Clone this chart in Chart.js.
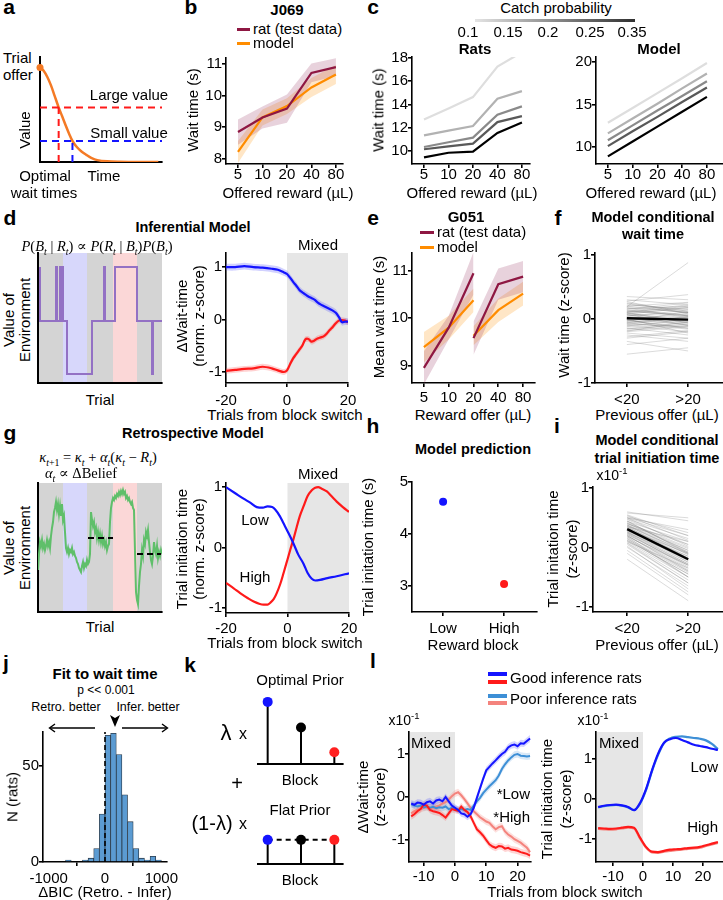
<!DOCTYPE html>
<html><head><meta charset="utf-8">
<script src="https://cdn.jsdelivr.net/npm/chart.js@4.4.1/dist/chart.umd.min.js"></script>
<style>
html,body{margin:0;padding:0;background:#fff;}
#fig{position:relative;width:723px;height:900px;overflow:hidden;background:#fff;}
sub,sup{font-size:68%;line-height:0;}
</style></head><body><div id="fig"></div>
<script>
// ================= DATA =================
// a: value of waiting as a function of time
const aTime  = [0, 0.03, 0.06, 0.09, 0.12, 0.153, 0.18, 0.21, 0.24, 0.266, 0.3, 0.34, 0.38, 0.42, 0.47, 0.55, 0.65, 0.8, 0.97];
const aValue = [0.9, 0.87, 0.81, 0.73, 0.63, 0.52, 0.44, 0.35, 0.265, 0.2, 0.145, 0.1, 0.068, 0.04, 0.018, 0.006, 0.002, 0, 0];
const aLevels  = [0.52, 0.2];     // large value, small value
const aOptimal = [0.153, 0.266];  // optimal wait times

// b: J069
const rewardLabels = ['5', '10', '20', '40', '80'];
const bRatMean   = [8.85, 9.31, 9.59, 10.72, 10.9];
const bRatSem    = [0.4, 0.35, 0.45, 0.3, 0.28];
const bModelMean = [8.22, 9.31, 9.67, 10.26, 10.67];
const bModelSem  = [0.35, 0.25, 0.25, 0.3, 0.3];

// c: catch probability
const catchProbs  = ['0.1', '0.15', '0.2', '0.25', '0.35'];
const catchColors = ['#dedede', '#b2b2b2', '#8a8a8a', '#595959', '#000000'];
const cRats = [
  [12.7, 13.65, 14.64, 17.27, 18.5],
  [11.35, 11.75, 12.15, 14.5, 15.15],
  [10.34, 10.75, 11.15, 13.12, 13.84],
  [10.15, 10.4, 10.63, 12.49, 13.0],
  [9.45, 9.85, 9.95, 11.55, 12.45]];
const cModel = [
  [12.85, 14.6, 16.35, 18.1, 19.9],
  [11.6, 13.35, 15.1, 16.9, 18.65],
  [10.8, 12.55, 14.3, 16.0, 17.75],
  [10.1, 11.85, 13.55, 15.3, 17.0],
  [8.9, 10.65, 12.4, 14.15, 15.9]];

// d: inferential model
const envBlocks = [{from: 0, to: 124, color: '#d4d4d4'}, {from: 25, to: 49, color: '#d7d7fb'}, {from: 75, to: 99, color: '#fbd7d7'}];
const dEnvX = [2,2,18,18,19,19,22,22,23,23,24,24,25,25,29,29,54,54,66,66,67,67,77,77,99,99,114,114,115,115,124];
const dEnvY = [116,62,62,116,116,62,62,116,116,62,62,116,116,62,62,9,9,62,62,116,116,62,62,116,116,62,62,9,9,62,62];
const dTrials = [-20,-17,-14,-11,-8,-5,-3,-1,0,1,2,3,4,5,6,7,8,9,10,11,12,13,14,15,16,17,18,19,20];
const dLow  = [1.0,1.0,1.02,1.0,0.99,0.97,0.95,0.9,0.87,0.8,0.72,0.65,0.57,0.52,0.48,0.44,0.41,0.38,0.33,0.29,0.26,0.23,0.2,0.17,0.13,0.05,-0.05,-0.04,-0.04];
const dHigh = [-0.98,-0.96,-0.94,-0.93,-0.9,-0.93,-0.97,-1.0,-0.97,-0.85,-0.74,-0.66,-0.58,-0.5,-0.38,-0.37,-0.42,-0.4,-0.36,-0.34,-0.32,-0.27,-0.2,-0.14,-0.07,-0.02,-0.01,-0.02,-0.05];
const dLowSem = 0.065, dHighSem = 0.055;
const mixedD = [{from: 0, to: 20, color: '#e6e6e6'}];

// e: G051
const eIdxLow = [0, 1, 2], eIdxHigh = [2, 3, 4];
const eRatLow    = [8.95, 9.8, 10.95],  eRatLowSem    = [0.35, 0.25, 0.45];
const eRatHigh   = [9.58, 10.72, 10.88], eRatHighSem   = [0.35, 0.33, 0.33];
const eModelLow  = [9.39, 9.8, 10.38],  eModelLowSem  = [0.32, 0.25, 0.25];
const eModelHigh = [9.63, 10.17, 10.52], eModelHighSem = [0.2, 0.25, 0.25];

// f: model conditional wait time (per rat, <20 vs >20)
const prevOffer = ['<20', '>20'];
const fStart = [0.12,-0.08,0.05,-0.15,0.22,-0.3,0.02,0.1,-0.05,0.18,-0.22,0.08,-0.12,0.3,-0.02,0.15,-0.18,0.06,-0.4,0.25,0.0,-0.1,0.13,-0.25,0.04,0.35,-0.07,0.2,-0.55,0.09,-0.14,0.16,-0.03,0.28,-0.2,0.07,-0.35,0.11,-0.06,0.19,
                0.03,-0.09,0.14,-0.02,0.24,-0.16,0.07,0.01,-0.28,0.17,-0.04,0.1,-0.11,0.2,0.0,-0.19,0.09,0.27,-0.06,0.12];
const fEnd   = [0.05,-0.12,0.1,-0.05,0.15,-0.2,-0.08,0.2,0.02,0.1,-0.3,0.0,-0.02,0.22,-0.15,0.25,-0.1,-0.04,-0.3,0.12,0.08,-0.2,0.05,-0.35,0.14,0.3,0.03,0.1,-0.45,-0.06,-0.25,0.2,0.06,0.38,-0.12,-0.1,-0.5,0.18,0.04,0.88,
                -0.02,0.04,0.06,-0.14,0.1,-0.08,0.18,-0.1,-0.18,0.02,0.12,-0.06,0.0,0.26,-0.22,-0.04,0.16,0.08,-0.16,0.22];
const fMean  = [0.01, -0.01];

// g: retrospective model
const gEnvX = [0,1,2,3,4,5,6,7,8,9,10,11,12,13,14,15,16,17,18,19,20,21,22,23,24,25,26,27,28,29,30,31,32,33,34,35,36,37,38,39,40,41,42,43,44,45,46,47,48,49,50,51,52,53,54,55,56,57,58,59,60,61,62,63,64,65,66,67,68,69,70,71,72,73,74,75,76,77,78,79,80,81,82,83,84,85,86,87,88,89,90,91,92,93,94,95,96,97,98,99,100,101,102,103,104,105,106,107,108,109,110,111,112,113,114,115,116,117,118,119,120,121,122,123,124];
const gEnvY = [42,58,70,66,72,64,68,62,66,72,66,70,64,76,84,90,100,104,110,102,108,98,106,96,108,92,96,80,64,60,64,58,62,60,64,58,60,56,54,50,48,44,42,40,46,50,44,48,46,52,48,50,58,100,92,86,90,80,84,74,80,72,78,70,76,68,72,66,70,62,66,68,90,104,110,114,112,116,114,118,116,120,117,121,118,122,118,120,114,116,112,114,110,108,110,104,102,60,20,12,8,26,40,48,62,56,72,68,80,76,82,70,60,52,48,56,70,62,58,66,54,60,56,62,58];
const gMeanA = {from: 50, to: 75, y: 74}, gMeanB = {from: 99, to: 123, y: 58};
const gLowX  = [-20,-17,-14.3,-12,-10,-8,-6.5,-5,-4,-2.5,-1.3,0,1.9,3.5,5.2,6.5,7.9,9,10.6,13,16,20];
const gLowY  = [1.0,0.9,0.81,0.74,0.67,0.66,0.68,0.67,0.63,0.52,0.4,0.27,0.07,-0.12,-0.27,-0.42,-0.52,-0.55,-0.54,-0.51,-0.48,-0.43];
const gHighX = [-20,-17.5,-15.4,-13,-11,-9,-7.8,-6.5,-5.6,-4.5,-3.5,-2.3,-1.3,0,0.9,2,3,4,5.2,6.5,7.9,9,10,11,12.8,14.5,16,18,20];
const gHighY = [-0.59,-0.68,-0.76,-0.84,-0.9,-0.94,-0.95,-0.95,-0.92,-0.86,-0.76,-0.6,-0.43,-0.2,-0.04,0.15,0.34,0.52,0.68,0.85,0.95,0.99,1.0,0.98,0.93,0.84,0.76,0.67,0.59];

// h: model prediction
const hBlocks = ['Low', 'High'];
const hTimes  = [4.62, 3.04];
const hColors = ['#1414ff', '#ff1a1a'];

// i: model conditional trial initiation time (x10^-1)
const iStart = [0.45,0.2,0.35,0.1,0.55,0.28,0.05,0.4,0.32,0.15,0.5,0.25,-0.05,0.38,0.22,0.6,0.3,0.12,0.48,0.18,-0.2,0.42,0.27,0.08,0.52,0.34,0.2,0.3,0.44,0.0,0.36,0.16,0.58,0.24,0.1,0.4,0.3,-0.1,0.5,0.26,
                0.33,0.12,0.47,0.22,0.38,0.02,0.29,0.54,0.18,0.41,0.26,0.07,0.35,0.5,0.14,0.31,0.44,0.2,0.37,0.24];
const iEnd   = [-0.1,-0.4,0.1,-0.35,0.2,-0.15,-0.6,0.05,-0.25,-0.5,0.3,-0.2,-0.75,-0.05,-0.3,0.45,-0.1,-0.45,0.15,-0.3,-0.9,0.0,-0.2,-0.55,0.25,-0.12,-0.35,-0.22,0.1,-0.65,-0.08,-0.4,0.5,-0.28,-0.5,-0.02,-0.18,-0.8,0.2,-0.25,
                -0.15,-0.45,0.05,-0.3,-0.1,-0.7,-0.22,0.12,-0.5,-0.05,-0.28,-0.6,-0.18,0.02,-0.42,-0.2,-0.08,-0.38,-0.12,-0.33];
const iMean  = [0.31, -0.2];

// j: histogram of delta BIC
const histCenters = [-650,-350,-250,-150,-50,50,150,250,350,450,550,650,750,850,950];
const histCounts  = [1,1,2,7,25,66,67,56,35,21,7,2,1,3,1];

// k: priors
const kBlocks  = [1, 2, 3];
const kOptimal = [0.9, 0.53, 0.17];
const kFlat    = [0.35, 0.35, 0.35];
const kColors  = ['#1414ff', '#000000', '#ff2020'];

// l: good vs poor inference rats (x10^-1)
const lLeftX = [-14,-13,-12,-11,-10,-9,-8,-7,-6,-5,-4,-3,-2,-1,0,1,2,3,4,5,6,7,8,9,10,11,12,13,14,15,16,17,18,19,20,21,22,23,24];
const lwGoodLow  = [-0.15,-0.18,-0.13,-0.14,-0.18,-0.12,-0.1,-0.15,-0.08,-0.06,-0.1,0.0,-0.1,-0.2,-0.25,-0.3,-0.38,-0.4,-0.46,-0.4,-0.25,-0.02,0.2,0.42,0.62,0.7,0.78,0.85,0.93,1.0,1.05,1.15,1.2,1.22,1.18,1.25,1.24,1.3,1.36];
const lwPoorLow  = [-0.17,-0.2,-0.22,-0.2,-0.24,-0.22,-0.25,-0.23,-0.26,-0.24,-0.25,-0.22,-0.28,-0.25,-0.27,-0.3,-0.28,-0.3,-0.28,-0.3,-0.2,-0.1,-0.02,0.09,0.17,0.25,0.32,0.39,0.5,0.65,0.76,0.85,0.92,0.98,1.0,0.96,0.95,0.94,0.95];
const lwGoodHigh = [-0.45,-0.4,-0.33,-0.28,-0.18,-0.2,-0.3,-0.33,-0.35,-0.37,-0.42,-0.48,-0.38,-0.28,-0.3,-0.32,-0.22,-0.3,-0.35,-0.45,-0.6,-0.75,-0.82,-0.9,-1.0,-1.1,-1.15,-1.18,-1.14,-1.15,-1.2,-1.18,-1.22,-1.23,-1.25,-1.28,-1.3,-1.32,-1.36];
const lwPoorHigh = [-0.38,-0.33,-0.3,-0.28,-0.25,-0.24,-0.26,-0.25,-0.22,-0.2,-0.15,-0.12,-0.06,0.02,0.08,0.11,0.04,-0.05,-0.15,-0.25,-0.33,-0.4,-0.47,-0.52,-0.57,-0.6,-0.68,-0.75,-0.7,-0.68,-0.8,-0.87,-0.92,-0.98,-1.02,-1.06,-1.12,-1.18,-1.28];
const lRightX = [-15,-13,-11,-9,-7,-5,-3,-1,1,3,5,7,9,11,13,15,17,19,21,23,25];
const liGoodLow  = [-0.2,-0.17,-0.15,-0.14,-0.16,-0.2,-0.28,-0.1,0.25,0.72,1.13,1.41,1.5,1.53,1.48,1.42,1.36,1.33,1.3,1.26,1.23];
const liPoorLow  = [-0.21,-0.18,-0.16,-0.15,-0.17,-0.21,-0.28,-0.12,0.22,0.7,1.1,1.4,1.52,1.56,1.57,1.55,1.53,1.51,1.47,1.38,1.25];
const liGoodHigh = [-0.73,-0.74,-0.75,-0.74,-0.72,-0.7,-0.72,-0.97,-1.2,-1.32,-1.33,-1.3,-1.27,-1.26,-1.25,-1.23,-1.22,-1.2,-1.16,-1.12,-1.08];
const liPoorHigh = [-0.75,-0.76,-0.77,-0.76,-0.74,-0.72,-0.74,-0.99,-1.22,-1.34,-1.35,-1.32,-1.3,-1.28,-1.27,-1.25,-1.24,-1.22,-1.18,-1.14,-1.1];
const lSem = 0.08;
const mixedL = [{from: -20, to: 0, color: '#e6e6e6'}];

// ================= HELPERS =================
const FONT = "'Liberation Sans', Arial, Helvetica, sans-serif";
const SERIF = "'Liberation Serif', 'DejaVu Serif', serif";
const BLUE = '#1414ff', RED = '#ff1a1a', LBLUE = '#3d8fd6', LRED = '#f4837d';
const RAT = '#8e1742', ORANGE = '#ff8c00', AORANGE = '#f47a25';
Chart.defaults.font.family = FONT;
Chart.defaults.font.size = 15;
Chart.defaults.color = '#000';
const fig = document.getElementById('fig');

const SHADES = {};
Chart.register({
  id: 'shade',
  beforeDraw(chart) {
    const regs = SHADES[chart.canvas.id];
    if (!regs) return;
    const {ctx, chartArea: a} = chart, x = chart.scales.x;
    ctx.save();
    regs.forEach(r => {
      const x0 = Math.max(a.left, x.getPixelForValue(r.from));
      const x1 = Math.min(a.right, x.getPixelForValue(r.to));
      ctx.fillStyle = r.color;
      ctx.fillRect(x0, a.top, x1 - x0, a.bottom - a.top);
    });
    ctx.restore();
  }
});

function pts(xs, ys) { return xs.map((x, i) => ({x, y: ys[i]})); }
function ln(data, color, w, extra) {
  return Object.assign({type: 'line', data, borderColor: color, backgroundColor: color, borderWidth: w || 2,
    pointRadius: 0, fill: false, tension: 0}, extra || {});
}
function band(xs, mean, sem, color, extra) {
  const sv = i => Array.isArray(sem) ? sem[i] : sem;
  return [
    Object.assign({type: 'line', data: xs.map((x, i) => ({x, y: mean[i] + sv(i)})), borderWidth: 0, borderColor: 'rgba(0,0,0,0)',
      pointRadius: 0, fill: '+1', backgroundColor: color, tension: 0}, extra || {}),
    Object.assign({type: 'line', data: xs.map((x, i) => ({x, y: mean[i] - sv(i)})), borderWidth: 0, borderColor: 'rgba(0,0,0,0)',
      pointRadius: 0, fill: false, backgroundColor: color, tension: 0}, extra || {})
  ];
}
function axis(min, max, ticks, labels, o) {
  o = o || {};
  const show = ticks.length > 0;
  return {
    type: 'linear', min, max, offset: false,
    afterBuildTicks: s => { s.ticks = ticks.map(v => ({value: v})); },
    border: {display: o.border !== false, color: '#000', width: o.bw || 1.6},
    grid: {display: true, drawOnChartArea: false, drawTicks: show, tickLength: 4, color: '#000', lineWidth: 1.6},
    ticks: {display: show, color: '#000', font: {size: 15, family: FONT}, padding: o.pad !== undefined ? o.pad : 1,
      maxRotation: 0, minRotation: 0, autoSkip: false, callback: (v, i) => labels[i]}
  };
}
function mk(id, area, m, datasets, xs, ys, type) {
  const [x, y, w, h] = area, [L, B, T, R] = m;
  const cv = document.createElement('canvas');
  cv.id = id;
  const W = w + L + R, H = h + T + B;
  cv.width = W; cv.height = H;
  cv.style.cssText = `position:absolute;left:${x - L}px;top:${y - T}px;width:${W}px;height:${H}px;`;
  fig.appendChild(cv);
  xs.position = 'bottom'; ys.position = 'left';
  xs.afterFit = s => { s.height = B; s.paddingLeft = 0; s.paddingRight = 0; };
  ys.afterFit = s => { s.width = L; s.paddingTop = 0; s.paddingBottom = 0; };
  return new Chart(cv, {
    type: type || 'line',
    data: {datasets},
    options: {
      responsive: false, maintainAspectRatio: false, animation: false, events: [],
      layout: {padding: {top: T, right: R, left: 0, bottom: 0}},
      plugins: {legend: {display: false}, tooltip: {enabled: false}},
      scales: {x: xs, y: ys}
    }
  });
}
function T(x, y, html, o) {
  o = o || {};
  const d = document.createElement('div');
  d.innerHTML = html;
  const a = o.a || 'c';
  const tx = a === 'l' ? '0' : a === 'r' ? '-100%' : '-50%';
  d.style.cssText = `position:absolute;left:${x}px;top:${y}px;white-space:nowrap;line-height:${o.lh ? o.lh + 'px' : 1.15};` +
    `font-family:${o.f || FONT};font-size:${o.s || 15}px;font-weight:${o.b ? 'bold' : 'normal'};color:${o.c || '#000'};` +
    `text-align:center;transform:translate(${tx},-50%)${o.r ? ' rotate(-90deg)' : ''};`;
  fig.appendChild(d);
}
function box(x, y, w, h, bg) {
  const d = document.createElement('div');
  d.style.cssText = `position:absolute;left:${x}px;top:${y}px;width:${w}px;height:${h}px;background:${bg};`;
  fig.appendChild(d);
}
const idx5 = rewardLabels.map((_, i) => i);

// ================= PANEL a =================
mk('cA', [38, 57, 124, 107], [2, 2, 4, 6], [
  ln(pts([0, 1], [aLevels[0], aLevels[0]]), RED, 2, {borderDash: [7, 5]}),
  ln(pts([0, 1], [aLevels[1], aLevels[1]]), BLUE, 2, {borderDash: [7, 5]}),
  ln(pts([aOptimal[0], aOptimal[0]], [0, aLevels[0]]), RED, 2, {borderDash: [7, 5]}),
  ln(pts([aOptimal[1], aOptimal[1]], [0, aLevels[1]]), BLUE, 2, {borderDash: [7, 5]}),
  ln(pts(aTime, aValue), AORANGE, 2.5, {tension: 0.3}),
  {type: 'scatter', data: pts([aTime[0]], [aValue[0]]), pointRadius: 3.5, backgroundColor: AORANGE, borderWidth: 0, clip: false}
], axis(0, 1, [], [], {bw: 2}), axis(0, 1, [], [], {bw: 2}));

// ================= PANEL b =================
mk('cB', [226, 58, 117, 106], [34, 22, 10, 10], [
  ln(pts(idx5, bRatMean), RAT, 2.2),
  ln(pts(idx5, bModelMean), ORANGE, 2.2),
  ...band(idx5, bRatMean, bRatSem, 'rgba(140,30,80,0.2)'),
  ...band(idx5, bModelMean, bModelSem, 'rgba(255,165,50,0.28)')
], axis(-0.49, 4.29, idx5, rewardLabels, {pad: -2.5}), axis(7.84, 11.19, [8, 9, 10, 11], ['8', '9', '10', '11'], {pad: 0}));

// ================= PANEL c =================
mk('cCR', [412, 57, 118, 107], [34, 22, 10, 10],
  cRats.map((r, k) => ln(pts(idx5, r), catchColors[k], 2.2)).reverse(),
  axis(-0.49, 4.33, idx5, rewardLabels, {pad: -2.5}), axis(8.88, 18.09, [10, 12, 14, 16, 18], ['10', '12', '14', '16', '18'], {pad: 0}));
mk('cCM', [596, 57, 127, 107], [34, 22, 10, 0],
  cModel.map((r, k) => ln(pts(idx5, r), catchColors[k], 2.2)).reverse(),
  axis(-0.48, 4.65, idx5, rewardLabels, {pad: -2.5}), axis(8.0, 20.6, [10, 15, 20], ['10', '15', '20'], {pad: 0}));

// ================= PANEL d =================
SHADES.cDS = envBlocks;
mk('cDS', [38, 253, 124, 130], [2, 2, 4, 4], [
  ln(pts(dEnvX, dEnvY), '#9371c4', 2)
], axis(0, 124, [], [], {bw: 2}), axis(0, 130, [], [], {bw: 2}));
SHADES.cDP = mixedD;
mk('cDP', [226, 253, 122, 130], [34, 22, 10, 10], [
  ln(pts(dTrials, dLow), BLUE, 2.2, {tension: 0.3}),
  ln(pts(dTrials, dHigh), RED, 2.2, {tension: 0.3}),
  ...band(dTrials, dLow, dLowSem, 'rgba(90,90,255,0.28)', {tension: 0.3}),
  ...band(dTrials, dHigh, dHighSem, 'rgba(255,90,90,0.28)', {tension: 0.3})
], axis(-20, 20, [-20, 0, 20], ['-20', '0', '20'], {pad: 4.5}), axis(-1.21, 1.27, [-1, 0, 1], ['-1', '0', '1'], {pad: 0}));

// ================= PANEL e =================
mk('cE', [412, 253, 123, 130], [34, 22, 10, 10], [
  ln(pts(eIdxLow, eRatLow), RAT, 2.2), ln(pts(eIdxHigh, eRatHigh), RAT, 2.2),
  ln(pts(eIdxLow, eModelLow), ORANGE, 2.2), ln(pts(eIdxHigh, eModelHigh), ORANGE, 2.2),
  ...band(eIdxLow, eRatLow, eRatLowSem, 'rgba(140,30,80,0.2)'),
  ...band(eIdxHigh, eRatHigh, eRatHighSem, 'rgba(140,30,80,0.2)'),
  ...band(eIdxLow, eModelLow, eModelLowSem, 'rgba(255,165,50,0.28)'),
  ...band(eIdxHigh, eModelHigh, eModelHighSem, 'rgba(255,165,50,0.28)')
], axis(-0.48, 4.48, idx5, rewardLabels, {pad: 1.5}), axis(8.63, 11.38, [9, 10, 11], ['9', '10', '11'], {pad: 0}));

// ================= PANEL f =================
mk('cF', [595, 253, 128, 130], [34, 22, 10, 0],
  [ln(pts([0, 1], fMean), '#000', 2.4)].concat(fStart.map((s, i) => ln(pts([0, 1], [s, fEnd[i]]), 'rgba(110,110,110,0.28)', 0.9))),
  axis(-0.52, 1.57, [0, 1], prevOffer, {pad: 3.5}), axis(-1, 1.03, [-1, 0, 1], ['-1', '0', '1'], {pad: 0}));

// ================= PANEL g =================
SHADES.cGS = envBlocks;
mk('cGS', [38, 483, 124, 129], [2, 2, 4, 4], [
  ln(pts([gMeanA.from, gMeanA.to], [gMeanA.y, gMeanA.y]), '#000', 2, {borderDash: [6, 4]}),
  ln(pts([gMeanB.from, gMeanB.to], [gMeanB.y, gMeanB.y]), '#000', 2, {borderDash: [6, 4]}),
  ln(pts(gEnvX, gEnvY), '#5fbf6a', 2)
], axis(0, 124, [], [], {bw: 2}), axis(0, 129, [], [], {bw: 2}));
SHADES.cGP = mixedD;
mk('cGP', [226, 483, 123, 130], [34, 22, 10, 10], [
  ln(pts(gLowX, gLowY), BLUE, 2.2, {cubicInterpolationMode: 'monotone'}),
  ln(pts(gHighX, gHighY), RED, 2.2, {cubicInterpolationMode: 'monotone'})
], axis(-20, 20, [-20, 0, 20], ['-20', '0', '20'], {pad: 2.5}), axis(-1.09, 1.07, [-1, 0, 1], ['-1', '0', '1'], {pad: 0}));

// ================= PANEL h =================
mk('cH', [412, 482, 125, 130], [34, 22, 10, 10], [
  {type: 'scatter', data: pts([0, 1], hTimes), pointRadius: 4, pointBackgroundColor: hColors, pointBorderWidth: 0, clip: false}
], axis(-0.51, 1.54, [0, 1], hBlocks, {pad: 3.5}), axis(2.5, 5, [3, 4, 5], ['3', '4', '5'], {pad: 0}));

// ================= PANEL i =================
mk('cI', [593, 487, 130, 125], [34, 22, 10, 0],
  [ln(pts([0, 1], iMean), '#000', 2.4)].concat(iStart.map((s, k) => ln(pts([0, 1], [s, iEnd[k]]), 'rgba(110,110,110,0.28)', 0.9))),
  axis(-0.56, 1.57, [0, 1], prevOffer, {pad: 3.5}), axis(-1.09, 1.02, [-1, 0, 1], ['-1', '0', '1'], {pad: 0}));

// ================= PANEL j =================
mk('cJ', [43, 732, 124, 130], [30, 22, 10, 12], [
  {type: 'line', data: pts([0, 0], [0, 67.7]), borderColor: '#000', borderWidth: 1.6, borderDash: [5, 3], pointRadius: 0, order: 0},
  {type: 'bar', data: pts(histCenters, histCounts), backgroundColor: '#5b9bd2', borderColor: '#2a3a4a', borderWidth: 0.8,
    barPercentage: 1, categoryPercentage: 1, order: 1}
], axis(-1100, 1100, [-1000, 0, 1000], ['-1000', '0', '1000'], {pad: 3.5}), axis(0, 67.7, [0, 50], ['0', '50'], {pad: 0}), 'bar');

// ================= PANEL k =================
function stems(vals) {
  return kBlocks.map((b, i) => ln(pts([b, b], [0, vals[i]]), '#000', 2));
}
mk('cK1', [255, 695, 88, 72], [2, 2, 8, 6], [
  {type: 'scatter', data: pts(kBlocks, kOptimal), pointRadius: 5, pointBackgroundColor: kColors, pointBorderWidth: 0, clip: false},
  ...stems(kOptimal)
], axis(0.71, 3.26, [], [], {bw: 2}), axis(0, 1, [], [], {border: false}));
mk('cK2', [255, 795, 88, 72], [2, 2, 8, 6], [
  {type: 'scatter', data: pts(kBlocks, kFlat), pointRadius: 5, pointBackgroundColor: kColors, pointBorderWidth: 0, clip: false},
  ln(pts(kBlocks, kFlat), '#000', 2, {borderDash: [5, 4]}),
  ...stems(kFlat)
], axis(0.71, 3.26, [], [], {bw: 2}), axis(0, 1, [], [], {border: false}));

// ================= PANEL l =================
SHADES.cLL = mixedL;
mk('cLL', [409, 732, 122, 130], [34, 22, 10, 10], [
  ln(pts(lLeftX, lwGoodLow), BLUE, 2), ln(pts(lLeftX, lwGoodHigh), RED, 2),
  ln(pts(lLeftX, lwPoorLow), LBLUE, 2), ln(pts(lLeftX, lwPoorHigh), LRED, 2),
  ...band(lLeftX, lwGoodLow, lSem, 'rgba(60,60,255,0.22)'),
  ...band(lLeftX, lwGoodHigh, lSem, 'rgba(255,60,60,0.22)'),
  ...band(lLeftX, lwPoorLow, lSem, 'rgba(80,150,220,0.22)'),
  ...band(lLeftX, lwPoorHigh, lSem, 'rgba(245,130,125,0.25)')
], axis(-14.7, 24.3, [-10, 0, 10, 20], ['-10', '0', '10', '20'], {pad: 1.5}), axis(-1.51, 1.51, [-1, 0, 1], ['-1', '0', '1'], {pad: 0}));
SHADES.cLR = mixedL;
mk('cLR', [596, 732, 127, 130], [34, 22, 10, 0], [
  ln(pts(lRightX, liGoodLow), BLUE, 2.2, {cubicInterpolationMode: 'monotone'}),
  ln(pts(lRightX, liGoodHigh), RED, 2.2, {cubicInterpolationMode: 'monotone'}),
  ln(pts(lRightX, liPoorLow), LBLUE, 2.2, {cubicInterpolationMode: 'monotone'}),
  ln(pts(lRightX, liPoorHigh), LRED, 2.2, {cubicInterpolationMode: 'monotone'})
], axis(-15.7, 26.7, [-10, 0, 10, 20], ['-10', '0', '10', '20'], {pad: 1.5}), axis(-1.58, 1.68, [-1, 0, 1], ['-1', '0', '1'], {pad: 0}));

// ================= TEXT =================
const LET = {s: 21, b: 1};
T(9, 7, 'a', LET); T(191, 7, 'b', LET); T(373, 7, 'c', LET);
T(10, 218, 'd', LET); T(373, 218, 'e', LET); T(558, 218, 'f', LET);
T(10, 433, 'g', LET); T(373, 426, 'h', LET); T(557, 426, 'i', LET);
T(6, 663, 'j', LET); T(190, 665, 'k', LET); T(373, 661, 'l', LET);

// a
T(3, 58, 'Trial', {a: 'l'}); T(3, 75, 'offer', {a: 'l'});
T(129, 95, 'Large value'); T(129, 133, 'Small value');
T(25, 130, 'Value', {r: 1});
T(45, 176, 'Optimal'); T(44, 193, 'wait times'); T(104, 176, 'Time');
// b
T(287, 10, 'J069', {b: 1});
box(237, 27.5, 13, 3, RAT); box(237, 41.5, 13, 3, ORANGE);
T(253, 29, 'rat (test data)', {a: 'l'}); T(253, 43, 'model', {a: 'l'});
T(193, 110, 'Wait time (s)', {r: 1}); T(288, 193, 'Offered reward (µL)');
// c
T(556, 8, 'Catch probability');
box(475, 19, 160, 2.5, 'linear-gradient(to right,#e4e4e4,#303030)');
[468, 508, 548, 590, 632].forEach((x, i) => T(x, 32, catchProbs[i]));
T(475, 49, 'Rats', {b: 1}); T(659, 49, 'Model', {b: 1});
T(378, 110, 'Wait time (s)', {r: 1});
T(472, 193, 'Offered reward (µL)'); T(651, 193, 'Offered reward (µL)');
// d
T(193, 227, 'Inferential Model', {b: 1, s: 14.5});
T(97, 246, '<i>P</i>(<i>B<sub>t</sub></i> | <i>R<sub>t</sub></i>) ∝ <i>P</i>(<i>R<sub>t</sub></i> | <i>B<sub>t</sub></i>)<i>P</i>(<i>B<sub>t</sub></i>)', {f: SERIF, s: 14.5});
T(17, 320, 'Value of<br>Environment', {r: 1, lh: 16});
T(100, 400, 'Trial');
T(190, 316, 'ΔWait-time<br>(norm. z-score)', {r: 1, lh: 17});
T(318, 245, 'Mixed');
T(285, 415, 'Trials from block switch');
// e
T(466, 217, 'G051', {b: 1});
box(420, 230.5, 14, 3, RAT); box(420, 245.5, 14, 3, ORANGE);
T(437, 232, 'rat (test data)', {a: 'l'}); T(437, 247, 'model', {a: 'l'});
T(379, 317, 'Mean wait time (s)', {r: 1}); T(473, 415, 'Reward offer (µL)');
// f
T(653, 217, 'Model conditional', {b: 1, s: 14.5}); T(653, 234, 'wait time', {b: 1, s: 14.5});
T(564, 315, 'Wait time (z-score)', {r: 1}); T(657, 415, 'Previous offer (µL)');
// g
T(193, 433, 'Retrospective Model', {b: 1, s: 14.5});
T(98, 457, '<i>κ</i><sub><i>t</i>+1</sub> = <i>κ<sub>t</sub></i> + <i>α<sub>t</sub></i>(<i>κ<sub>t</sub></i> − <i>R<sub>t</sub></i>)', {f: SERIF, s: 14.5});
T(81, 473, '<i>α<sub>t</sub></i> ∝ ΔBelief', {f: SERIF, s: 14.5});
T(17, 548, 'Value of<br>Environment', {r: 1, lh: 16});
T(100, 627, 'Trial');
T(190, 549, 'Trial initiation time<br>(norm. z-score)', {r: 1, lh: 17});
T(318, 474, 'Mixed'); T(255, 520, 'Low'); T(255, 577, 'High');
T(285, 643, 'Trials from block switch');
// h
T(473, 449, 'Model prediction', {b: 1, s: 14.5});
T(368, 547, 'Trial initation time (s)', {r: 1});
T(473, 645, 'Reward block');
// i
T(657, 440, 'Model conditional', {b: 1, s: 14.5}); T(657, 458, 'trial initiation time', {b: 1, s: 14.5});
T(612, 475, 'x10<sup>-1</sup>', {s: 14});
T(562, 549, 'Trial initation time<br>(z-score)', {r: 1, lh: 19});
T(657, 645, 'Previous offer (µL)');
// j
T(105, 674, 'Fit to wait time', {b: 1});
T(106, 691, 'p &lt;&lt; 0.001', {s: 12});
T(66, 707, 'Retro. better', {s: 12.5}); T(148, 707, 'Infer. better', {s: 12.5});
T(12, 797, 'N (rats)', {r: 1}); T(105, 892, 'ΔBIC (Retro. - Infer)');
const svgNS = 'http://www.w3.org/2000/svg';
const svg = document.createElementNS(svgNS, 'svg');
svg.setAttribute('width', '723'); svg.setAttribute('height', '900');
svg.style.cssText = 'position:absolute;left:0;top:0;pointer-events:none;';
svg.innerHTML =
  '<line x1="95" y1="728" x2="50" y2="728" stroke="#000" stroke-width="1.4"/>' +
  '<polyline points="55,724 49.5,728 55,732" fill="none" stroke="#000" stroke-width="1.4"/>' +
  '<line x1="122" y1="728" x2="167" y2="728" stroke="#000" stroke-width="1.4"/>' +
  '<polyline points="162,724 167.5,728 162,732" fill="none" stroke="#000" stroke-width="1.4"/>' +
  '<polygon points="110,715 115,727 120,715 115,718" fill="#000"/>';
fig.appendChild(svg);
// k
T(300, 680, 'Optimal Prior'); T(226, 733, 'λ', {s: 22}); T(243, 734, 'x', {s: 16});
T(300, 780, 'Block'); T(237, 783, '+', {s: 20});
T(300, 810, 'Flat Prior'); T(212, 823, '(1-λ)', {s: 20}); T(243, 824, 'x', {s: 16});
T(300, 880, 'Block');
// l
box(488, 672, 19, 4, BLUE); box(488, 680, 19, 4, RED);
box(488, 693.5, 19, 4, LBLUE); box(488, 701, 19, 4, LRED);
T(510, 678, 'Good inference rats', {a: 'l'}); T(510, 699, 'Poor inference rats', {a: 'l'});
T(404, 720, 'x10<sup>-1</sup>', {s: 14}); T(593, 720, 'x10<sup>-1</sup>', {s: 14});
T(431, 743, 'Mixed'); T(619, 743, 'Mixed');
T(530, 794, '*Low', {a: 'r'}); T(530, 817, '*High', {a: 'r'});
T(371, 797, 'ΔWait-time<br>(z-score)', {r: 1, lh: 17});
T(718, 767, 'Low', {a: 'r'}); T(718, 827, 'High', {a: 'r'});
T(556, 799, 'Trial initiation time<br>(z-score)', {r: 1, lh: 19});
T(565, 892, 'Trials from block switch');
</script></body></html>
